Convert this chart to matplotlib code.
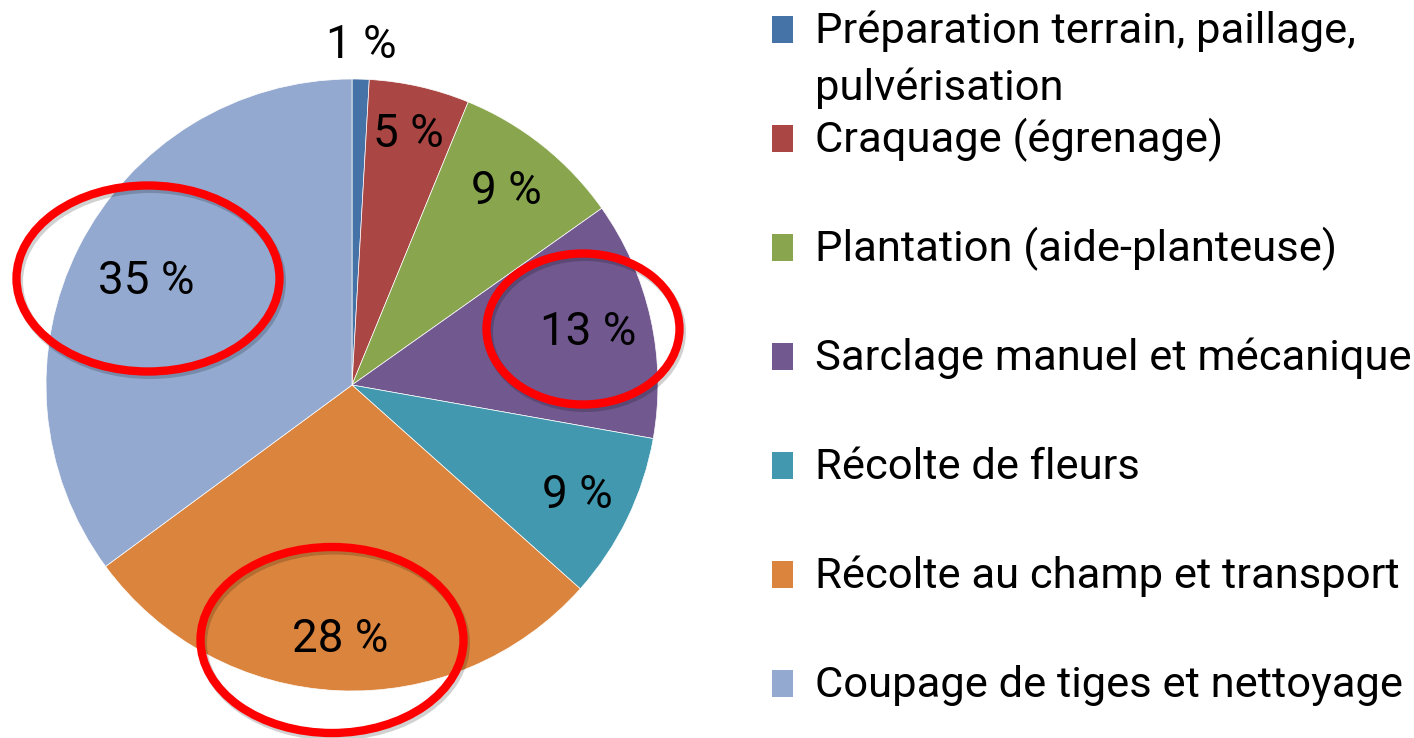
import matplotlib
matplotlib.use("Agg")
import numpy as np
import matplotlib.pyplot as plt
from matplotlib.patches import Ellipse, Rectangle

# slice shares (%); labels shown rounded
categories = [
    "Préparation terrain, paillage,\npulvérisation",
    "Craquage (égrenage)",
    "Plantation (aide-planteuse)",
    "Sarclage manuel et mécanique",
    "Récolte de fleurs",
    "Récolte au champ et transport",
    "Coupage de tiges et nettoyage",
]
shares = [0.9, 5.3, 9.0, 12.6, 8.8, 28.3, 35.1]
colors = ["#4572A7", "#AA4643", "#89A54E", "#71588F", "#4198AF", "#DB843D", "#93A9CF"]
# slices circled in red
highlighted = [3, 5, 6]

W, H = 1414, 738
plt.rcParams['font.family'] = ['Roboto', 'DejaVu Sans']

fig = plt.figure(figsize=(W / 100, H / 100), dpi=100)
ax = fig.add_axes([0, 0, 1, 1])
renderer = fig.canvas.get_renderer()


def Y(y):
    # picture rows -> axes y
    return H - y


def fit_size(s, target_px, base=30):
    t = fig.text(0, 0, s, fontsize=base)
    w = t.get_window_extent(renderer).width
    t.remove()
    return base * target_px / w


cx, cy, R = 352, Y(385), 306
wedges, _ = ax.pie(shares, colors=colors, startangle=90, counterclock=False,
                   center=(cx, cy), radius=R, frame=True,
                   wedgeprops=dict(edgecolor='white', linewidth=0.5))
ax.set_xlim(0, W)
ax.set_ylim(0, H)
ax.axis('off')

# data labels along the mid angle of each slice
pct_size = fit_size("35 %", 96)
label_dist = [1.11, 0.84, 0.81, 0.79, 0.82, 0.83, 0.755]
for w, v, d in zip(wedges, shares, label_dist):
    mid = np.deg2rad((w.theta1 + w.theta2) / 2)
    ax.text(cx + d * R * np.cos(mid), cy + d * R * np.sin(mid), f"{round(v)} %",
            ha='center', va='center', fontsize=pct_size, color='black')

# red ellipses around the highlighted slices, with a faint shadow
ell_geom = {6: (148, 278.5, 263, 186), 3: (583, 329, 193, 151), 5: (332, 640, 263, 186)}
for i in highlighted:
    ex, ey, ew, eh = ell_geom[i]
    ax.add_patch(Ellipse((ex + 2, Y(ey) - 3), ew, eh, fill=False, edgecolor='black',
                         alpha=0.18, linewidth=6.5, zorder=4))
    ax.add_patch(Ellipse((ex, Y(ey)), ew, eh, fill=False, edgecolor='#FF0000',
                         linewidth=6, zorder=5))

# legend
leg_size = fit_size("Coupage de tiges et nettoyage", 586)
first_base = 43
row_step = 109
line_step = 57
base = 152
for i, (lab, c) in enumerate(zip(categories, colors)):
    b = first_base if i == 0 else base + (i - 1) * row_step
    ax.add_patch(Rectangle((772, Y(b)), 21, 27, facecolor=c, edgecolor='none'))
    for k, line in enumerate(lab.split("\n")):
        ax.text(815, Y(b + k * line_step), line, ha='left', va='baseline',
                fontsize=leg_size, color='black')

fig.savefig("out.png", dpi=100)
